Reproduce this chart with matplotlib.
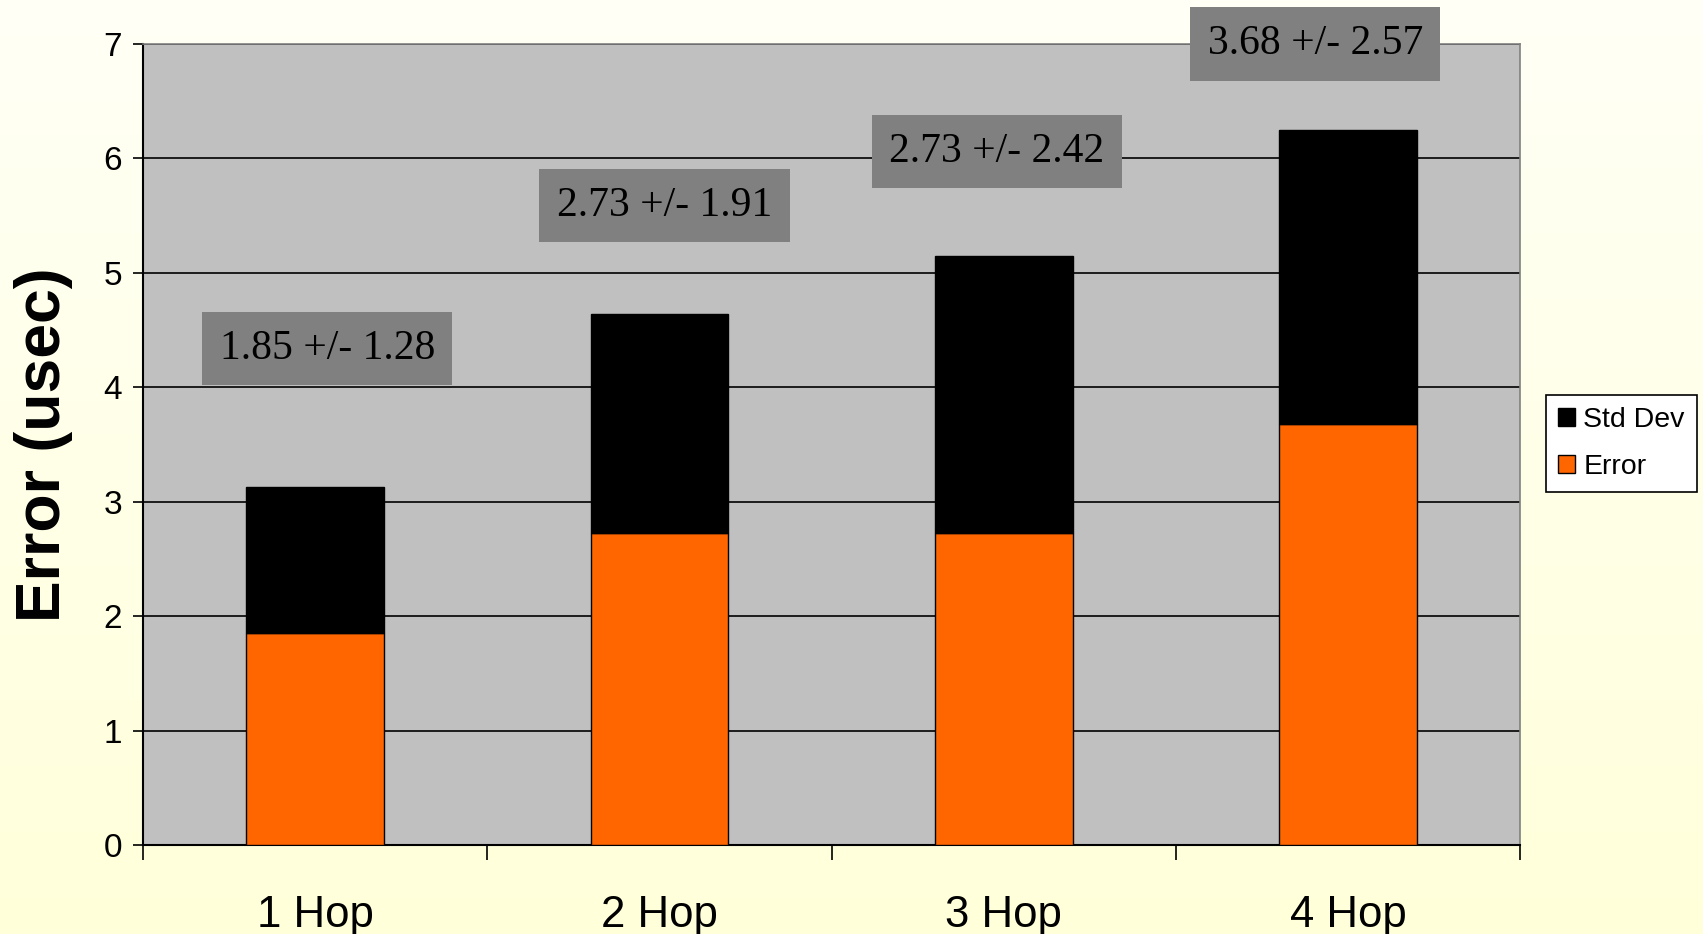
import matplotlib
matplotlib.use('Agg')
import matplotlib.pyplot as plt
import numpy as np
from matplotlib.patches import Patch

hops       = ['1 Hop', '2 Hop', '3 Hop', '4 Hop']
error_mean = [1.85, 2.73, 2.73, 3.68]
error_std  = [1.28, 1.91, 2.42, 2.57]

# where the "mean +/- std" boxes sit (x offset from bar centre, y in data units)
note_dx = [0.035, 0.015, -0.02, -0.095]
note_y  = [4.34, 5.59, 6.06, 7.0]

ORANGE = '#FF6600'
PLOT_BG = '#C0C0C0'
NOTE_BG = '#808080'

fig = plt.figure(figsize=(17.03, 9.34), dpi=100)

# pale yellow backdrop, lighter at the top
bg = fig.add_axes([0, 0, 1, 1], zorder=-10)
top_c = np.array([255, 255, 246]) / 255
bot_c = np.array([255, 255, 218]) / 255
t = np.linspace(0, 1, 256)[:, None]
grad = (top_c * (1 - t) + bot_c * t)[:, None, :]
bg.imshow(grad, aspect='auto', extent=[0, 1, 0, 1])
bg.axis('off')

ax = fig.add_axes([0.084, 0.0953, 0.8086, 0.8576])
ax.set_facecolor(PLOT_BG)

x = np.arange(len(hops))
ax.bar(x, error_mean, width=0.40, color=ORANGE, edgecolor='black', linewidth=1.0, zorder=3)
ax.bar(x, error_std, width=0.40, bottom=error_mean, color='black',
       edgecolor='black', linewidth=1.0, zorder=3)

for i in range(len(hops)):
    ax.text(x[i] + note_dx[i], note_y[i], f'{error_mean[i]:.2f} +/- {error_std[i]:.2f}',
            ha='center', va='center', fontsize=30, family='Liberation Serif',
            color='black', zorder=5, clip_on=False,
            bbox=dict(boxstyle='square,pad=0.42', fc=NOTE_BG, ec='none'))

ax.set_xlim(-0.5, len(hops) - 0.5)
ax.set_ylim(0, 7)
ax.set_yticks(range(0, 8))
ax.yaxis.grid(True, color='black', linewidth=1.2, zorder=1)
ax.set_axisbelow(True)

ax.set_xticks(x)
ax.set_xticklabels(hops, family='Liberation Sans')
ax.tick_params(axis='x', which='major', length=0, pad=36, labelsize=31.5)
ax.set_xticks(np.arange(-0.5, len(hops)), minor=True)
ax.tick_params(axis='x', which='minor', length=11, width=1.2, direction='out')
ax.tick_params(axis='y', length=7, width=1.2, direction='out', pad=8, labelsize=24)
for lab in ax.get_yticklabels():
    lab.set_family('Liberation Sans')

ax.spines['left'].set_linewidth(1.5)
ax.spines['bottom'].set_linewidth(1.5)
ax.spines['top'].set_color('#808080')
ax.spines['right'].set_color('#808080')
ax.spines['top'].set_linewidth(1.2)
ax.spines['right'].set_linewidth(1.2)

ax.set_ylabel('Error (usec)', fontsize=45, fontweight='bold', family='Liberation Sans')
ax.yaxis.set_label_coords(-0.051, 0.5)

handles = [Patch(facecolor='black', edgecolor='black', label='Std Dev'),
           Patch(facecolor=ORANGE, edgecolor='black', label='Error')]
leg = fig.legend(handles=handles, loc='upper left', bbox_to_anchor=(0.9076, 0.577),
                 borderaxespad=0,
                 prop={'family': 'Liberation Sans', 'size': 20.5},
                 handlelength=0.6, handleheight=0.6, handletextpad=0.3,
                 borderpad=0.42, labelspacing=0.75, fancybox=False,
                 edgecolor='black', facecolor='white', framealpha=1)
leg.get_frame().set_linewidth(1.2)

fig.savefig('out.png', dpi=100)
